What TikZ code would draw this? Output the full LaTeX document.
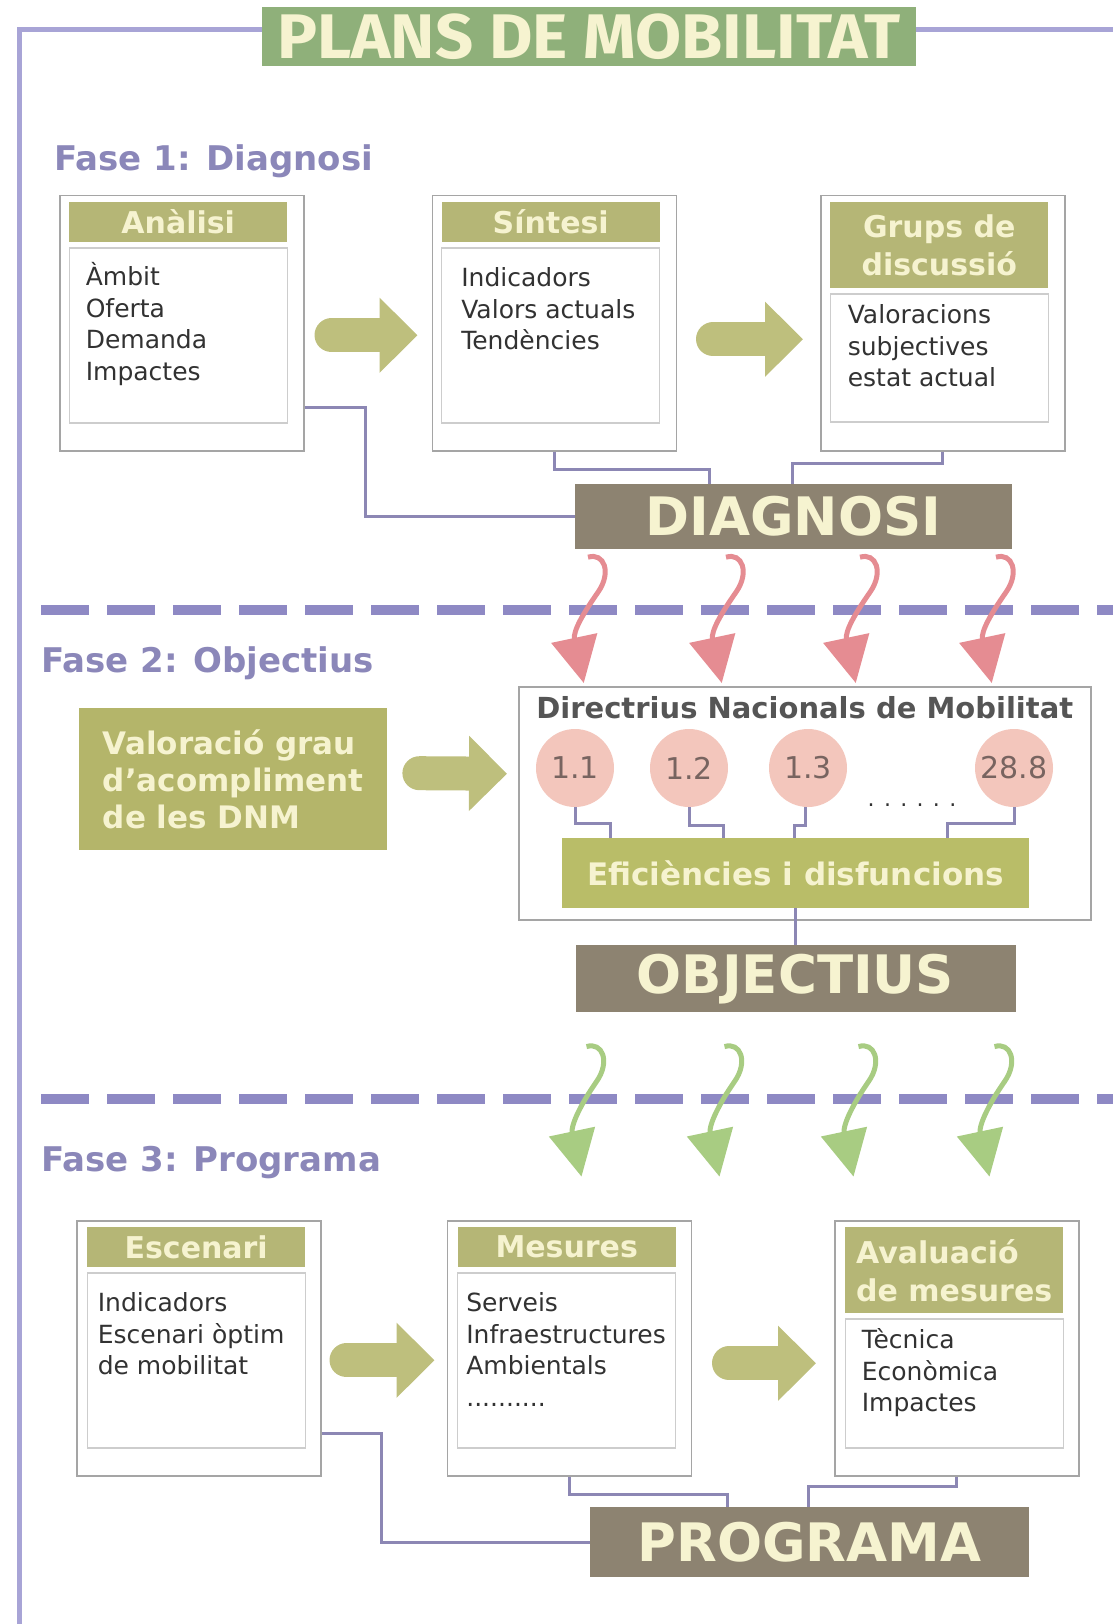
\documentclass[tikz,border=0pt]{standalone}
\usepackage{fontspec}
\setmainfont{DejaVu Sans}
\newfontfamily\titlefont{Fira Sans}
\usepackage{graphicx}
\usepackage{tikz}
\usetikzlibrary{
	arrows.meta,
	positioning
}

\definecolor{titlegreen}{RGB}{143,176,122}
\definecolor{headolive}{RGB}{181,182,118}
\definecolor{valolive}{RGB}{180,181,106}
\definecolor{eficolive}{RGB}{185,189,104}
\definecolor{cream}{RGB}{246,243,208}
\definecolor{brownbox}{RGB}{141,131,113}
\definecolor{lavline}{RGB}{142,137,196}
\definecolor{framecol}{RGB}{168,164,214}
\definecolor{phasecol}{RGB}{139,135,185}
\definecolor{linkcol}{RGB}{140,135,180}
\definecolor{pinkarrow}{RGB}{229,140,146}
\definecolor{pinkcircle}{RGB}{243,198,188}
\definecolor{greenwave}{RGB}{168,204,130}
\definecolor{blockgreen}{RGB}{190,191,125}
\definecolor{panelgray}{RGB}{165,165,165}
\definecolor{bodygray}{RGB}{205,205,205}
\definecolor{textdark}{RGB}{50,50,50}
\definecolor{dnmtext}{RGB}{85,85,85}
\definecolor{circletext}{RGB}{120,100,96}

\begin{document}
\begin{tikzpicture}[
    x=1pt, y=1pt,
    panel/.style={rectangle, draw=panelgray, line width=1.5pt, fill=white, minimum width=244, minimum height=255, inner sep=0, anchor=north west},
    head/.style={rectangle, fill=headolive, text=cream, font=\bfseries\fontsize{30}{38}\selectfont, minimum width=218, minimum height=40, inner sep=0, align=center},
    body/.style={rectangle, draw=bodygray, line width=1.2pt, minimum width=218, minimum height=175, inner sep=0},
    items/.style={font=\fontsize{25}{31.5}\selectfont, text=textdark, align=left, inner sep=0},
    result/.style={rectangle, fill=brownbox, text=cream, font=\bfseries\fontsize{53}{60}\selectfont, inner sep=0},
    phase/.style={font=\bfseries\fontsize{34}{40}\selectfont, text=phasecol, inner sep=0, anchor=west},
    dnmcircle/.style={circle, fill=pinkcircle, text=circletext, font=\fontsize{30}{34}\selectfont, minimum size=78, inner sep=-8pt},
    link/.style={draw=linkcol, line width=3pt},
    bigarrow/.style={draw=blockgreen, line width=34pt, line cap=round, -{Triangle[width=73pt,length=38pt]}},
    wavy/.style={line width=5pt, -{Triangle[width=46pt,length=46pt]}},
    sepline/.style={draw=lavline, line width=10pt, dash pattern=on 48pt off 18pt}
]
\useasboundingbox (0,0) rectangle (1112,-1624);

% Frame and title
\node[fill=titlegreen, text=cream, font=\titlefont\bfseries\fontsize{63}{66}\selectfont, minimum width=654, minimum height=59, inner sep=0] (title) at (589,-37) {\scalebox{1.06}[1]{PLANS DE MOBILITAT}};
\draw[framecol, line width=5pt] (title.west |- 0,-30) -- (19,-30) -- (19,-1630);
\draw[framecol, line width=5pt] (title.east |- 0,-30) -- (1115,-30);

% Fase 1
\node[phase] (fase1) at (54,-161) {Fase 1: Diagnosi};

\node[panel] (analisi) at (59,-195) {};
\node[panel, right=127pt of analisi] (sintesi) {};
\node[panel, right=143pt of sintesi] (grups) {};

\node[head, below right=7pt and 10pt of analisi.north west] (analisi-head) {Anàlisi};
\node[body, below=5pt of analisi-head] (analisi-body) {};
\node[items, below right=15pt and 17pt of analisi-body.north west] (analisi-items) {Àmbit\\Oferta\\Demanda\\Impactes};

\node[head, below right=7pt and 10pt of sintesi.north west] (sintesi-head) {Síntesi};
\node[body, below=5pt of sintesi-head] (sintesi-body) {};
\node[items, below right=20pt and 20pt of sintesi-body.north west] (sintesi-items) {Indicadors\\Valors actuals\\Tendències};

\node[head, minimum height=86, below right=7pt and 10pt of grups.north west] (grups-head) {Grups de\\discussió};
\node[body, minimum height=128, below=5pt of grups-head] (grups-body) {};
\node[items, below right=11pt and 18pt of grups-body.north west] (grups-items) {Valoracions\\subjectives\\estat actual};

\node[result, minimum width=437, minimum height=65] (diagnosi) at (793.5,-516.5) {DIAGNOSI};

% Arrows
\draw[bigarrow] ([xshift=27,yshift=-12]analisi.east) -- ([xshift=-14,yshift=-12]sintesi.west);
\draw[bigarrow] ([xshift=36,yshift=-16]sintesi.east) -- ([xshift=-17,yshift=-16]grups.west);

% Connections
\draw[link] ([yshift=-84.5]analisi.east) -- ++(61,0) |- (diagnosi.west);
\draw[link] (sintesi.south) -- ++(0,-18) -| ([xshift=-84.5]diagnosi.north);
\draw[link] (grups.south) -- ++(0,-12) -| ([xshift=-1.5]diagnosi.north);

% Fase 2
\draw[sepline] (41,-610) -- (1115,-610);
\node[phase] (fase2) at (41,-663) {Fase 2: Objectius};

\node[fill=valolive, text=cream, font=\bfseries\fontsize{31}{37}\selectfont, align=left, minimum width=308, minimum height=142, inner sep=0, anchor=north west] (valoracio) at (79,-708) {Valoració grau\\d’acompliment\\de les DNM};

\node[draw=panelgray, line width=1.5pt, minimum width=572, minimum height=233, inner sep=0, anchor=north west] (dnm) at (518,-686) {};
\node[font=\bfseries\fontsize{29}{32}\selectfont, text=dnmtext, inner sep=0, below=10pt of dnm.north] (dnm-title) {Directrius Nacionals de Mobilitat};

\foreach \lab/\px [count=\n] in {1.1/575, 1.2/689, 1.3/808, 28.8/1014}
    \node[dnmcircle] (dnm\n) at (\px,-768) {\lab};
\node[font=\fontsize{22}{24}\selectfont, text=textdark, inner sep=0] (dots) at (912,-805) {. . . . . .};

\node[fill=eficolive, text=cream, font=\bfseries\fontsize{31}{36}\selectfont, minimum width=467, minimum height=70, inner sep=0] (efic) at (795.5,-873) {Eficiències i disfuncions};
\node[result, minimum width=440, minimum height=67, below=37pt of efic] (objectius) {OBJECTIUS};

\foreach \dx in {0,138,272,408}
    \draw[wavy, pinkarrow] ([xshift=-205.5+\dx, yshift=-8]diagnosi.south) .. controls +(16,5) and +(14,20) .. ++(10,-35) .. controls +(-14,-20) and +(-11,52) .. ([xshift=-221+\dx, yshift=3]dnm.north);

\draw[bigarrow] ([xshift=32,yshift=6]valoracio.east) -- ([xshift=-11,yshift=29.5]dnm.west);

\draw[link] (dnm1.south) -- ++(0,-16) -| ([xshift=-185]efic.north);
\draw[link] (dnm2.south) -- ++(0,-18) -| ([xshift=-72.5]efic.north);
\draw[link] ([xshift=-3]dnm3.south) -- ++(0,-18) -| ([xshift=-1]efic.north);
\draw[link] (dnm4.south) -- ++(0,-16) -| ([xshift=151.5]efic.north);
\draw[link] (efic) -- (objectius);

% Fase 3
\draw[sepline] (41,-1099) -- (1115,-1099);
\node[phase] (fase3) at (41,-1163) {Fase 3: Programa};

\foreach \dx in {0,138,272,408}
    \draw[wavy, greenwave] ([xshift=-209+\dx, yshift=-34]objectius.south) .. controls +(16,5) and +(14,20) .. ++(10,-35) .. controls +(-14,-20) and +(-11,52) .. ([xshift=-214+\dx, yshift=-164]objectius.south);

\node[panel] (escenari) at (76,-1220) {};
\node[panel, right=125pt of escenari] (mesures) {};
\node[panel, right=142pt of mesures] (avaluacio) {};

\node[head, below right=7pt and 11pt of escenari.north west] (escenari-head) {Escenari};
\node[body, below=5pt of escenari-head] (escenari-body) {};
\node[items, below right=20pt and 11pt of escenari-body.north west] (escenari-items) {Indicadors\\Escenari òptim\\de mobilitat};

\node[head, below right=7pt and 11pt of mesures.north west] (mesures-head) {Mesures};
\node[body, below=5pt of mesures-head] (mesures-body) {};
\node[items, below right=20pt and 9pt of mesures-body.north west] (mesures-items) {Serveis\\Infraestructures\\Ambientals\\..........};

\node[head, minimum height=86, align=left, below right=7pt and 11pt of avaluacio.north west] (avaluacio-head) {Avaluació\\de mesures};
\node[body, minimum height=129, below=5pt of avaluacio-head] (avaluacio-body) {};
\node[items, below right=10pt and 17pt of avaluacio-body.north west] (avaluacio-items) {Tècnica\\Econòmica\\Impactes};

\node[result, minimum width=439, minimum height=70] (programa) at (809.5,-1542) {PROGRAMA};

\draw[bigarrow] ([xshift=25,yshift=-12]escenari.east) -- ([xshift=-12,yshift=-12]mesures.west);
\draw[bigarrow] ([xshift=37,yshift=-15]mesures.east) -- ([xshift=-18,yshift=-15]avaluacio.west);

\draw[link] ([yshift=-85.5]escenari.east) -- ++(60,0) |- (programa.west);
\draw[link] (mesures.south) -- ++(0,-18) -| ([xshift=-82.5]programa.north);
\draw[link] (avaluacio.south) -- ++(0,-10) -| ([xshift=-1.5]programa.north);

\end{tikzpicture}
\end{document}
